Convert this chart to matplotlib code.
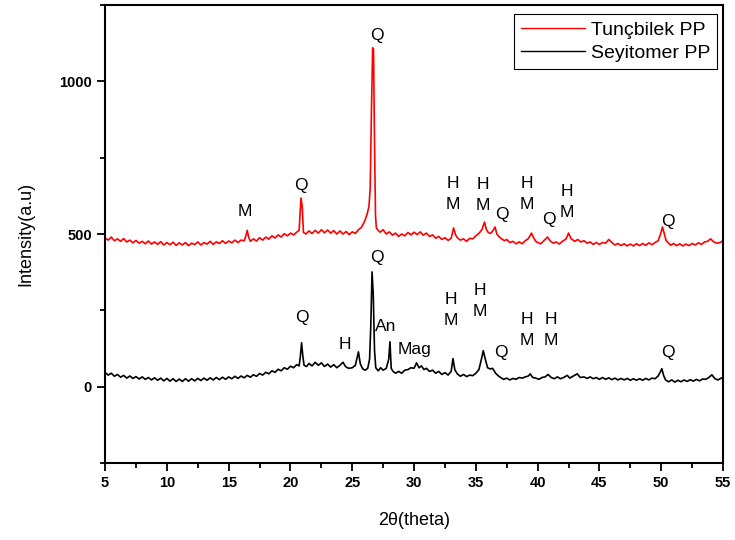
import matplotlib.pyplot as plt
from matplotlib.ticker import MultipleLocator

plt.rcParams['font.family'] = ['Liberation Sans', 'DejaVu Sans']

# Tunçbilek PP trace (2theta, intensity)
red_x = [5.0, 5.25, 5.5, 5.75, 6.0, 6.25, 6.5, 6.75, 7.0, 7.25, 7.5, 7.75, 8.0, 8.25, 8.5, 8.75,
         9.0, 9.25, 9.5, 9.75, 10.0, 10.25, 10.5, 10.75, 11.0, 11.25, 11.5, 11.75, 12.0, 12.25, 12.5,
         12.75, 13.0, 13.25, 13.5, 13.75, 14.0, 14.25, 14.5, 14.75, 15.0, 15.25, 15.5, 15.75, 16.0,
         16.25, 16.4, 16.5, 16.6, 16.75, 17.0, 17.25, 17.5, 17.75, 18.0, 18.25, 18.5, 18.75, 19.0,
         19.25, 19.5, 19.75, 20.0, 20.25, 20.5, 20.7, 20.8, 20.85, 20.95, 21.05, 21.25, 21.5, 21.75,
         22.0, 22.25, 22.5, 22.75, 23.0, 23.25, 23.5, 23.75, 24.0, 24.25, 24.5, 24.75, 25.0, 25.25,
         25.5, 25.75, 26.0, 26.2, 26.35, 26.45, 26.55, 26.65, 26.72, 26.8, 26.88, 26.95, 27.1, 27.25,
         27.5, 27.75, 28.0, 28.25, 28.5, 28.75, 29.0, 29.25, 29.5, 29.75, 30.0, 30.25, 30.5, 30.75,
         31.0, 31.25, 31.5, 31.75, 32.0, 32.25, 32.5, 32.75, 33.0, 33.2, 33.35, 33.5, 33.75, 34.0,
         34.25, 34.5, 34.75, 35.0, 35.25, 35.5, 35.7, 35.85, 36.0, 36.2, 36.4, 36.55, 36.7, 36.9,
         37.1, 37.3, 37.5, 37.75, 38.0, 38.25, 38.5, 38.75, 39.0, 39.25, 39.5, 39.7, 39.9, 40.25,
         40.5, 40.8, 41.0, 41.25, 41.5, 41.75, 42.0, 42.3, 42.5, 42.7, 43.0, 43.25, 43.5, 43.75,
         44.0, 44.25, 44.5, 44.75, 45.0, 45.25, 45.5, 45.75, 46.0, 46.25, 46.5, 46.75, 47.0, 47.25,
         47.5, 47.75, 48.0, 48.25, 48.5, 48.75, 49.0, 49.25, 49.5, 49.75, 49.95, 50.1, 50.25, 50.4,
         50.6, 50.75, 51.0, 51.25, 51.5, 51.75, 52.0, 52.25, 52.5, 52.75, 53.0, 53.25, 53.5, 53.75,
         54.0, 54.25, 54.5, 54.75, 55.0]
red_y = [487, 480, 490, 478, 484, 476, 485, 474, 480, 471, 479, 470, 476, 468, 477, 467,
         474, 466, 475, 464, 472, 465, 473, 463, 471, 464, 472, 462, 470, 465, 474,
         464, 472, 467, 476, 466, 474, 469, 478, 469, 477, 471, 480, 472, 480,
         478, 495, 512, 492, 476, 484, 477, 488, 480, 490, 483, 494, 487, 497,
         490, 501, 494, 503, 497, 506, 512, 580, 618, 590, 505, 500, 510, 502,
         512, 503, 514, 504, 513, 503, 511, 500, 510, 500, 508, 498, 507, 502,
         514, 522, 542, 565, 590, 650, 900, 1110, 1105, 800, 560, 520, 512, 506,
         514, 500, 507, 496, 503, 492, 500, 494, 505, 497, 506, 498, 507, 496,
         503, 492, 497, 486, 492, 482, 488, 479, 486, 520, 498, 488, 480, 484,
         476, 486, 484, 494, 502, 515, 539, 515, 505, 502, 512, 523, 500, 490,
         484, 478, 482, 472, 476, 468, 474, 468, 478, 485, 503, 485, 474, 468,
         478, 490, 478, 470, 474, 467, 476, 484, 503, 485, 476, 482, 474, 478,
         470, 474, 466, 472, 466, 472, 470, 482, 472, 464, 469, 462, 468, 461,
         467, 461, 468, 462, 469, 463, 471, 465, 472, 478, 500, 523, 500, 478,
         470, 463, 469, 462, 468, 461, 467, 462, 469, 464, 471, 466, 474, 476,
         484, 474, 470, 472, 478]

# Seyitomer PP trace
blk_x = [5.0, 5.25, 5.5, 5.75, 6.0, 6.25, 6.5, 6.75, 7.0, 7.25, 7.5, 7.75, 8.0, 8.25, 8.5, 8.75,
         9.0, 9.25, 9.5, 9.75, 10.0, 10.25, 10.5, 10.75, 11.0, 11.25, 11.5, 11.75, 12.0, 12.25, 12.5,
         12.75, 13.0, 13.25, 13.5, 13.75, 14.0, 14.25, 14.5, 14.75, 15.0, 15.25, 15.5, 15.75, 16.0,
         16.25, 16.5, 16.75, 17.0, 17.25, 17.5, 17.75, 18.0, 18.25, 18.5, 18.75, 19.0, 19.25, 19.5,
         19.75, 20.0, 20.25, 20.5, 20.7, 20.8, 20.9, 21.0, 21.1, 21.3, 21.5, 21.75, 22.0, 22.25,
         22.5, 22.75, 23.0, 23.25, 23.5, 23.75, 24.0, 24.25, 24.45, 24.7, 25.0, 25.25, 25.5, 25.65,
         25.85, 26.05, 26.25, 26.4, 26.5, 26.6, 26.7, 26.8, 26.9, 27.1, 27.3, 27.5, 27.75, 27.95,
         28.05, 28.15, 28.3, 28.5, 28.75, 29.0, 29.25, 29.5, 29.75, 30.0, 30.2, 30.4, 30.6, 30.8,
         31.0, 31.25, 31.5, 31.75, 32.0, 32.25, 32.5, 32.75, 33.0, 33.15, 33.3, 33.5, 33.75, 34.0,
         34.25, 34.5, 34.75, 35.0, 35.25, 35.45, 35.6, 35.75, 35.95, 36.15, 36.35, 36.6, 36.8, 37.0,
         37.25, 37.5, 37.75, 38.0, 38.25, 38.5, 38.75, 39.0, 39.25, 39.4, 39.6, 39.85, 40.1, 40.35,
         40.6, 40.85, 41.1, 41.35, 41.6, 41.85, 42.1, 42.4, 42.6, 42.85, 43.2, 43.45, 43.75, 44.0,
         44.25, 44.5, 44.75, 45.0, 45.25, 45.5, 45.75, 46.0, 46.25, 46.5, 46.75, 47.0, 47.25, 47.5,
         47.75, 48.0, 48.25, 48.5, 48.75, 49.0, 49.25, 49.5, 49.75, 49.95, 50.05, 50.2, 50.35, 50.6,
         50.85, 51.1, 51.35, 51.6, 51.85, 52.1, 52.35, 52.6, 52.85, 53.1, 53.35, 53.6, 53.85, 54.1,
         54.35, 54.6, 54.85, 55.0]
blk_y = [46, 38, 44, 34, 40, 31, 37, 28, 35, 27, 33, 25, 32, 24, 30, 22,
         29, 21, 28, 19, 27, 18, 26, 17, 25, 17, 26, 18, 26, 19, 27,
         20, 28, 21, 29, 22, 30, 23, 31, 24, 32, 26, 34, 27, 35,
         29, 37, 31, 39, 34, 43, 38, 47, 42, 52, 47, 57, 52, 62,
         57, 67, 62, 72, 68, 100, 144, 100, 70, 66, 76, 68, 80, 70,
         78, 66, 74, 64, 72, 62, 70, 80, 66, 60, 62, 70, 114, 75,
         58, 54, 60, 90, 200, 376, 300, 120, 62, 52, 62, 54, 60, 90,
         147, 60, 50, 44, 50, 44, 54, 56, 62, 60, 78, 62, 68, 56,
         60, 50, 54, 44, 50, 40, 46, 38, 50, 92, 55, 42, 34, 40,
         33, 38, 36, 44, 56, 90, 118, 92, 62, 58, 60, 44, 36, 30,
         24, 28, 22, 27, 24, 30, 28, 32, 35, 42, 30, 28, 24, 30,
         32, 40, 30, 26, 32, 26, 30, 37, 28, 34, 42, 30, 32, 27,
         32, 26, 30, 24, 30, 24, 29, 23, 28, 22, 27, 22, 27, 21,
         26, 21, 26, 21, 27, 22, 28, 26, 35, 50, 59, 36, 22, 16,
         22, 15, 21, 16, 22, 17, 23, 18, 24, 19, 25, 24, 30, 39,
         26, 22, 28, 29]

# phase labels: text, 2theta, intensity
red_labels = ['M', 'Q', 'Q', 'H\nM', 'H\nM', 'Q', 'H\nM', 'Q', 'H\nM', 'Q']
red_lab_x = [16.33, 20.86, 27.0, 33.15, 35.6, 37.1, 39.1, 40.9, 42.4, 50.5]
red_lab_y = [575, 660, 1150, 630, 628, 565, 630, 549, 605, 542]

blk_labels = ['Q', 'H', 'Q', 'An', 'Mag', 'H\nM', 'H\nM', 'Q', 'H\nM', 'H\nM', 'Q']
blk_lab_x = [20.94, 24.4, 27.0, 27.7, 30.0, 33.0, 35.3, 37.0, 39.1, 41.1, 50.5]
blk_lab_y = [225, 137, 422, 196, 121, 250, 280, 111, 185, 185, 111]

fig = plt.figure(figsize=(7.35, 5.4), dpi=100)
ax = fig.add_axes([0.143, 0.1426, 0.8407, 0.8481])

ax.plot(red_x, red_y, color='red', linewidth=1.2, label='Tunçbilek PP')
ax.plot(blk_x, blk_y, color='black', linewidth=1.2, label='Seyitomer PP')

for t, x, y in zip(red_labels, red_lab_x, red_lab_y):
    ax.text(x, y, t, ha='center', va='center', fontsize=12.5, linespacing=1.5)
for t, x, y in zip(blk_labels, blk_lab_x, blk_lab_y):
    ax.text(x, y, t, ha='center', va='center', fontsize=12.5, linespacing=1.5)

ax.set_xlim(5, 55)
ax.set_ylim(-250, 1250)
ax.xaxis.set_major_locator(MultipleLocator(5))
ax.xaxis.set_minor_locator(MultipleLocator(2.5))
ax.yaxis.set_major_locator(MultipleLocator(500))
ax.yaxis.set_minor_locator(MultipleLocator(250))
ax.tick_params(which='major', direction='out', length=6, width=1.3, labelsize=10.5)
ax.tick_params(which='minor', direction='out', length=3.5, width=1.3)
for lab in ax.get_xticklabels() + ax.get_yticklabels():
    lab.set_fontweight('bold')
for s in ax.spines.values():
    s.set_linewidth(1.5)

ax.set_xlabel('2θ(theta)', fontsize=13, labelpad=16)
ax.set_ylabel('Intensity(a.u)', fontsize=13, labelpad=18)

leg = ax.legend(loc='upper right', bbox_to_anchor=(0.99, 0.98), fontsize=14,
                fancybox=False, edgecolor='black', framealpha=1, handlelength=3.3,
                handletextpad=0.3, borderpad=0.35, labelspacing=0.3, borderaxespad=0)
leg.get_frame().set_linewidth(0.8)
for h in leg.get_lines():
    h.set_linewidth(1.0)

fig.savefig('out.png', dpi=100)
